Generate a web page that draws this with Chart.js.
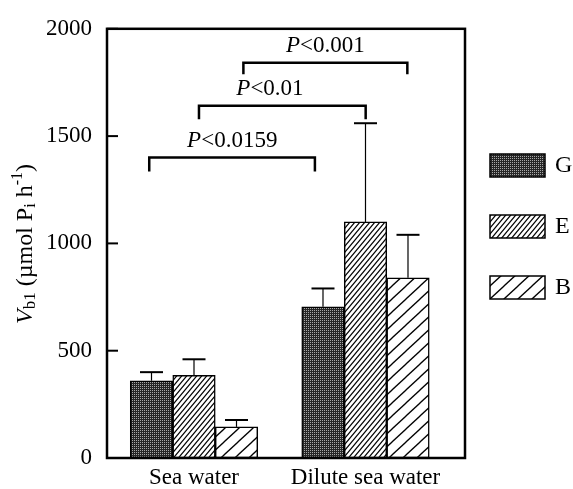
<!DOCTYPE html>
<html>
<head>
<meta charset="utf-8">
<script src="https://cdn.jsdelivr.net/npm/chart.js@4.4.1/dist/chart.umd.min.js"></script>
<style>
  html, body { margin: 0; padding: 0; background: #fff; }
</style>
</head>
<body>
<canvas id="myChart" width="573" height="489"></canvas>
<script>
// data
const categories = ["Sea water", "Dilute sea water"];
const seriesNames = ["G", "E", "B"];
const gValues = [360, 705];
const eValues = [385, 1100];
const bValues = [145, 840];
const gErrors = [40, 85];
const eErrors = [75, 460];
const bErrors = [32, 200];
const yTicks = [0, 500, 1000, 1500, 2000];
const pTexts = ["<0.0159", "<0.01", "<0.001"];

const seriesValues = [gValues, eValues, bValues];
const seriesErrors = [gErrors, eErrors, bErrors];

const serif = "'Liberation Serif', 'DejaVu Serif', serif";

// significance brackets, in axis units
const brackets = [
  { x1: 0.739, x2: 1.705, y: 1400, leg: 65, tx: 1.223 },
  { x1: 1.029, x2: 2.001, y: 1642, leg: 64, tx: 1.443 },
  { x1: 1.288, x2: 2.244, y: 1842, leg: 54, tx: 1.766 },
];

// fill patterns
function makeTile(w, h, draw) {
  const c = document.createElement("canvas");
  c.width = w;
  c.height = h;
  const g = c.getContext("2d");
  g.fillStyle = "#fff";
  g.fillRect(0, 0, w, h);
  draw(g, w, h);
  return c;
}
function hatch(w, h, lw) {
  return makeTile(w, h, (g) => {
    g.strokeStyle = "#000";
    g.lineWidth = lw;
    for (let k = -1; k <= 1; k++) {
      g.beginPath();
      g.moveTo(-w + k * w, 2 * h);
      g.lineTo(2 * w + k * w, -h);
      g.stroke();
    }
  });
}
const dotTile = makeTile(2, 2, (g) => {
  g.fillStyle = "#262626";
  g.fillRect(0, 0, 2, 2);
  g.fillStyle = "#a8a8a8";
  g.fillRect(0, 0, 1, 1);
});

const ctx = document.getElementById("myChart");
const c2d = ctx.getContext("2d");
const patterns = [
  c2d.createPattern(dotTile, "repeat"),
  c2d.createPattern(hatch(5, 6, 1.2), "repeat"),
  c2d.createPattern(hatch(14, 13, 1.3), "repeat"),
];

function drawRich(g, parts, x, y) {
  let total = 0;
  parts.forEach((p) => {
    g.font = p.font;
    p.w = g.measureText(p.t).width;
    total += p.w;
  });
  let cx = x - total / 2;
  g.textAlign = "left";
  parts.forEach((p) => {
    g.font = p.font;
    g.fillText(p.t, cx, y + (p.dy || 0));
    cx += p.w;
  });
}

const decorations = {
  id: "decorations",
  afterDatasetsDraw(chart) {
    const { ctx: g, chartArea: a, scales } = chart;
    const x = scales.x;
    const y = scales.y;
    g.save();
    g.strokeStyle = "#000";
    g.fillStyle = "#000";

    // error bars (upper side only)
    seriesErrors.forEach((errs, di) => {
      const meta = chart.getDatasetMeta(di);
      meta.data.forEach((bar, i) => {
        const top = y.getPixelForValue(seriesValues[di][i] + errs[i]);
        g.lineWidth = 1.2;
        g.beginPath();
        g.moveTo(bar.x, bar.y);
        g.lineTo(bar.x, top);
        g.stroke();
        g.lineWidth = 2;
        g.beginPath();
        g.moveTo(bar.x - 11.5, top);
        g.lineTo(bar.x + 11.5, top);
        g.stroke();
      });
    });

    // frame
    g.lineWidth = 2.5;
    g.strokeRect(a.left, a.top, a.right - a.left, a.bottom - a.top);

    // inward y ticks
    g.lineWidth = 2;
    yTicks.forEach((v) => {
      const py = y.getPixelForValue(v);
      g.beginPath();
      g.moveTo(a.left, py);
      g.lineTo(a.left + 11, py);
      g.stroke();
    });

    // brackets
    brackets.forEach((b, i) => {
      const px1 = x.getPixelForValue(b.x1);
      const px2 = x.getPixelForValue(b.x2);
      const py = y.getPixelForValue(b.y);
      const pl = y.getPixelForValue(b.y - b.leg);
      g.lineWidth = 2.5;
      g.beginPath();
      g.moveTo(px1, pl);
      g.lineTo(px1, py);
      g.lineTo(px2, py);
      g.lineTo(px2, pl);
      g.stroke();
      g.textBaseline = "middle";
      drawRich(g, [
        { t: "P", font: "italic 23px " + serif },
        { t: pTexts[i], font: "23px " + serif },
      ], x.getPixelForValue(b.tx), py - 17);
    });

    // y title
    g.save();
    g.translate(26, 244);
    g.rotate(-Math.PI / 2);
    g.textBaseline = "middle";
    drawRich(g, [
      { t: "V", font: "italic 24px " + serif },
      { t: "b1", font: "17px " + serif, dy: 5 },
      { t: " (\u00b5mol P", font: "24px " + serif },
      { t: "i", font: "16px " + serif, dy: 5 },
      { t: " h", font: "24px " + serif },
      { t: "-1", font: "16px " + serif, dy: -8 },
      { t: ")", font: "24px " + serif },
    ], 0, 0);
    g.restore();

    // legend
    const boxTops = [154, 215, 276];
    seriesNames.forEach((name, di) => {
      const bx = a.right + 25;
      const by = boxTops[di];
      g.fillStyle = patterns[di];
      g.fillRect(bx, by, 55, 23);
      g.lineWidth = 1.5;
      g.strokeRect(bx, by, 55, 23);
      g.fillStyle = "#000";
      g.font = "24px " + serif;
      g.textAlign = "left";
      g.textBaseline = "middle";
      g.fillText(name, bx + 65, by + 12);
    });
    g.restore();
  },
};

new Chart(ctx, {
  type: "bar",
  data: {
    datasets: seriesNames.map((name, di) => ({
      label: name,
      data: categories.map((c, i) => ({ x: i + 1, y: seriesValues[di][i] })),
      backgroundColor: patterns[di],
      borderColor: "#000",
      borderWidth: 1.5,
      borderSkipped: false,
      barThickness: 42.5,
    })),
  },
  options: {
    responsive: false,
    animation: false,
    layout: { padding: { top: 24, right: 108, left: 0, bottom: 0 } },
    plugins: {
      legend: { display: false },
      tooltip: { enabled: false },
    },
    scales: {
      x: {
        type: "linear",
        min: 0.4927,
        max: 2.5802,
        offset: false,
        grid: { display: false, drawTicks: false },
        border: { display: false },
        afterBuildTicks: (s) => {
          s.ticks = categories.map((c, i) => ({ value: i + 1 }));
        },
        afterFit: (s) => {
          s.height = 31;
        },
        ticks: {
          callback: (v) => categories[Math.round(v) - 1] || "",
          font: { family: serif, size: 23 },
          color: "#000",
          padding: 6,
          maxRotation: 0,
          autoSkip: false,
        },
      },
      y: {
        min: 0,
        max: 2000,
        afterBuildTicks: (s) => {
          s.ticks = yTicks.map((v) => ({ value: v }));
        },
        afterFit: (s) => {
          s.width = 107;
        },
        grid: { display: false, drawTicks: false },
        border: { display: false },
        ticks: {
          callback: (v) => String(v),
          font: { family: serif, size: 23 },
          color: "#000",
          padding: 15,
        },
      },
    },
  },
  plugins: [decorations],
});
</script>
</body>
</html>
